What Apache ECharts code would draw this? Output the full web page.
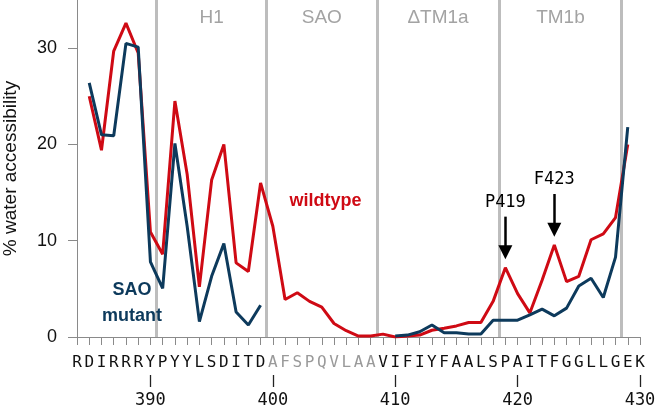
<!DOCTYPE html>
<html>
<head>
<meta charset="utf-8">
<script src="https://cdn.jsdelivr.net/npm/echarts@6/dist/echarts.min.js"></script>
<style>
html,body{margin:0;padding:0;background:#fff;}
#chart{width:657px;height:408px;}
</style>
</head>
<body>
<div id="chart"></div>
<script>
// ---- data ----
const sequence = 'RDIRRRYPYYLSDITDAFSPQVLAAVIFIYFAALSPAITFGGLLGEK'.split('');
const firstResidue = 384;
const lastResidue = 430;
const numberTicks = [390, 400, 410, 420, 430];
const yTicks = [0, 10, 20, 30];
const greyResidueRange = [400, 408];
const wildtype = [null, 25.0, 19.4, 29.7, 32.6, 29.5, 10.9, 8.6, 24.5, 16.9, 5.2, 16.3, 20.0, 7.7, 6.8, 16.0,
  11.5, 3.9, 4.6, 3.7, 3.1, 1.4, 0.65, 0.1, 0.1, 0.3, 0.0, 0.1, 0.2, 0.7, 0.9, 1.15, 1.5, 1.5, 3.7, 7.2,
  4.5, 2.5, 5.9, 9.55, 5.75, 6.3, 10.1, 10.7, 12.4, 20.0, null];
const mutant = [null, 26.4, 21.0, 20.9, 30.5, 30.1, 7.8, 5.05, 20.1, 11.5, 1.6, 6.3, 9.7, 2.6, 1.25, 3.3,
  null, null, null, null, null, null, null, null, null, null,
  0.1, 0.2, 0.55, 1.25, 0.45, 0.45, 0.3, 0.3, 1.75, 1.75, 1.75, 2.3, 2.9, 2.2, 3.0, 5.3, 6.1, 4.1, 8.3, 21.8, null];
const regionBoundaries = [390.5, 399.5, 408.5, 418.5, 428.5];
const regionNames = ['H1', 'SAO', '\u0394TM1a', 'TM1b'];
const arrowTargets = [{name: 'P419', residue: 419, value: 7.2}, {name: 'F423', residue: 423, value: 9.55}];

// ---- build ----
const residues = sequence.map((_, i) => firstResidue + i);
const wtData = residues.map((r, i) => [r, wildtype[i]]);
const mutData = residues.map((r, i) => [r, mutant[i]]);
const regionLabelData = regionNames.map((n, i) => ({
  name: n, coord: [(regionBoundaries[i] + regionBoundaries[i + 1]) / 2, 33.2]
}));

const RED = '#cf0a14';
const BLUE = '#0d3a5c';
const SANS = '"Liberation Sans", Arial, Helvetica, sans-serif';
const MONO = '"DejaVu Sans Mono", "Liberation Mono", monospace';

const chart = echarts.init(document.getElementById('chart'), null, {renderer: 'canvas'});
chart.setOption({
  animation: false,
  backgroundColor: '#fff',
  grid: {left: 77, right: 17, top: 0, bottom: 71, containLabel: false, outerBoundsMode: 'none'},
  xAxis: [{
    type: 'value', min: firstResidue, max: lastResidue, interval: 1,
    axisLine: {show: true, lineStyle: {color: '#8a8a8a', width: 1}},
    axisTick: {show: true, length: 8, lineStyle: {color: '#8a8a8a', width: 1}},
    splitLine: {show: false},
    axisLabel: {
      margin: 18, fontFamily: MONO, fontSize: 16, color: '#111',
      formatter: function (v) {
        const r = Math.round(v);
        const letter = sequence[r - firstResidue] || '';
        const grey = r >= greyResidueRange[0] && r <= greyResidueRange[1];
        return grey ? '{g|' + letter + '}' : '{k|' + letter + '}';
      },
      rich: {
        g: {color: '#9a9a9a', fontFamily: MONO, fontSize: 16},
        k: {color: '#111', fontFamily: MONO, fontSize: 16}
      }
    }
  }, {
    type: 'value', min: firstResidue, max: lastResidue, position: 'bottom', offset: 38,
    axisLine: {show: false},
    splitLine: {show: false},
    axisTick: {show: true, length: 12, customValues: numberTicks, lineStyle: {color: '#222', width: 1.3}},
    axisLabel: {show: true, customValues: numberTicks, margin: 17, fontFamily: MONO, fontSize: 17, color: '#111'}
  }],
  yAxis: {
    type: 'value', min: 0, max: 35,
    name: '% water accessibility', nameLocation: 'middle', nameGap: 57, nameRotate: 90,
    nameTextStyle: {fontFamily: SANS, fontSize: 19, color: '#111'},
    axisLine: {show: true, lineStyle: {color: '#8a8a8a', width: 1}},
    axisTick: {show: true, length: 9, customValues: yTicks, lineStyle: {color: '#8a8a8a', width: 1}},
    axisLabel: {customValues: yTicks, margin: 20, fontFamily: SANS, fontSize: 18, color: '#111'},
    splitLine: {show: false}
  },
  series: [{
    type: 'line', data: [], silent: true, z: 1,
    markLine: {
      z: 1, silent: true, symbol: ['none', 'none'], label: {show: false},
      lineStyle: {color: '#bdbdbd', width: 3, type: 'solid'},
      emphasis: {disabled: true},
      data: regionBoundaries.map(b => ({xAxis: b}))
    },
    markPoint: {
      symbol: 'circle', symbolSize: 0.01, silent: true,
      itemStyle: {color: 'transparent'},
      label: {show: true, position: 'inside', formatter: '{b}', fontFamily: SANS, fontSize: 19, color: '#a3a3a3'},
      data: regionLabelData
    }
  }, {
    name: 'wildtype', type: 'line', data: wtData, connectNulls: false, showSymbol: false, z: 3,
    lineStyle: {color: RED, width: 3}, itemStyle: {color: RED}, silent: true
  }, {
    name: 'SAO mutant', type: 'line', data: mutData, connectNulls: false, showSymbol: false, z: 4,
    lineStyle: {color: BLUE, width: 3}, itemStyle: {color: BLUE}, silent: true
  }, {
    type: 'line', data: [], silent: true, z: 5,
    markLine: {
      z: 5, silent: true, symbol: ['none', 'triangle'], symbolSize: 14,
      symbolRotate: 180,
      label: {show: false},
      lineStyle: {color: '#000', width: 2.5, type: 'solid'},
      itemStyle: {color: '#000'},
      emphasis: {disabled: true},
      data: arrowTargets.map(a => [{coord: [a.residue, a.value + 5.3]}, {coord: [a.residue, a.value + 1.6]}])
    },
    markPoint: {
      symbol: 'circle', symbolSize: 0.01, silent: true,
      itemStyle: {color: 'transparent'},
      label: {show: true, position: 'inside', formatter: '{b}'},
      data: arrowTargets.map(a => ({
        name: a.name, coord: [a.residue, a.value + 6.8],
        label: {fontFamily: MONO, fontSize: 17, color: '#000'}
      })).concat([
        {name: 'wildtype', coord: [404.3, 14.1], label: {fontFamily: SANS, fontSize: 18, fontWeight: 'bold', color: RED}},
        {name: 'SAO\nmutant', coord: [388.5, 3.5], label: {fontFamily: SANS, fontSize: 18, fontWeight: 'bold', color: BLUE, lineHeight: 26, align: 'center'}}
      ])
    }
  }]
});
</script>
</body>
</html>
